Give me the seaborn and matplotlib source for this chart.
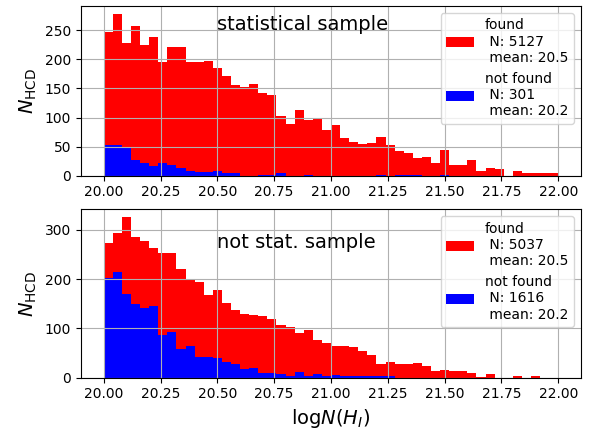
import numpy as np
import pandas as pd
import matplotlib
matplotlib.use("Agg")
import matplotlib.pyplot as plt
import seaborn as sns

# ---- data (histogram counts) ----
BIN_START = 20.0
BIN_END = 22.0
N_BINS = 50

stat_found = [248, 278, 228, 257, 224, 239, 196, 222, 221, 196, 196, 198, 186, 172, 156,
              153, 158, 143, 139, 103, 89, 113, 96, 100, 79,
              87, 64, 58, 55, 56, 66, 52, 43, 39, 30, 32, 21, 44,
              18, 18, 27, 8, 13, 11, 0, 8, 4, 4, 4, 4]
stat_notfound = [53, 53, 50, 27, 21, 17, 21, 18, 14, 8, 6, 6, 8, 4, 4,
                 0, 0, 2, 2, 4, 0, 0, 2, 0, 0,
                 0, 0, 0, 0, 0, 2, 0, 2, 2, 2, 0, 0, 2,
                 0, 0, 0, 0, 0, 0, 0, 0, 0, 0, 0, 0]
nonstat_found = [273, 293, 325, 285, 277, 263, 252, 252, 221, 199, 194, 167, 177, 152, 137,
                 130, 127, 125, 119, 106, 102, 91, 96, 77, 70,
                 65, 65, 63, 55, 46, 28, 32, 28, 28, 30, 24, 13, 15,
                 13, 13, 10, 2, 7, 0, 0, 4, 0, 4, 0, 0]
nonstat_notfound = [203, 214, 169, 150, 141, 145, 86, 93, 59, 65, 41, 41, 39, 32, 27,
                    18, 20, 10, 9, 7, 4, 12, 3, 7, 4,
                    5, 3, 3, 3, 3, 3, 3, 0, 0, 0, 0, 0, 0,
                    0, 0, 0, 0, 0, 0, 0, 0, 0, 0, 0, 0]

panel_titles = ["statistical sample", "not stat. sample"]
legend_found = ["found\n N: 5127\n mean: 20.5", "found\n N: 5037\n mean: 20.5"]
legend_notfound = ["not found\n N: 301\n mean: 20.2", "not found\n N: 1616\n mean: 20.2"]
title_y = [250, 262]
xtick_labels = ["20.00", "20.25", "20.50", "20.75", "21.00", "21.25", "21.50", "21.75", "22.00"]

edges = [float(e) for e in np.linspace(BIN_START, BIN_END, N_BINS + 1)]
centers = [0.5 * (a + b) for a, b in zip(edges[:-1], edges[1:])]

fig = plt.figure(figsize=(5.92, 4.30), dpi=100)
ax_top = fig.add_axes([0.1368, 0.5914, 0.8446, 0.3947])
ax_bot = fig.add_axes([0.1368, 0.1216, 0.8446, 0.3916])

datasets = [(stat_found, stat_notfound), (nonstat_found, nonstat_notfound)]

for i, (ax, (found, notfound)) in enumerate(zip([ax_top, ax_bot], datasets)):
    df_f = pd.DataFrame({"logN": centers, "count": [float(v) for v in found]})
    df_n = pd.DataFrame({"logN": centers, "count": [float(v) for v in notfound]})
    sns.histplot(data=df_f, x="logN", weights="count", bins=edges, element="step", fill=True,
                 color="red", alpha=1.0, linewidth=0, label=legend_found[i], ax=ax)
    sns.histplot(data=df_n, x="logN", weights="count", bins=edges, element="step", fill=True,
                 color="blue", alpha=1.0, linewidth=0, label=legend_notfound[i], ax=ax)
    ax.grid(True)
    ax.set_xlabel("")
    ax.set_ylabel(r"$N_{\rm HCD}$", fontsize=14)
    ax.text(20.5, title_y[i], panel_titles[i], fontsize=14)
    ax.legend(loc="upper right")
    ax.set_xticks([float(t) for t in xtick_labels])
    ax.set_xticklabels(xtick_labels)
    ax.set_xlim(19.9, 22.1)

ax_bot.set_xlabel(r"$\mathrm{log}N(H_I)$", fontsize=14)

fig.savefig("out.png", dpi=100)
